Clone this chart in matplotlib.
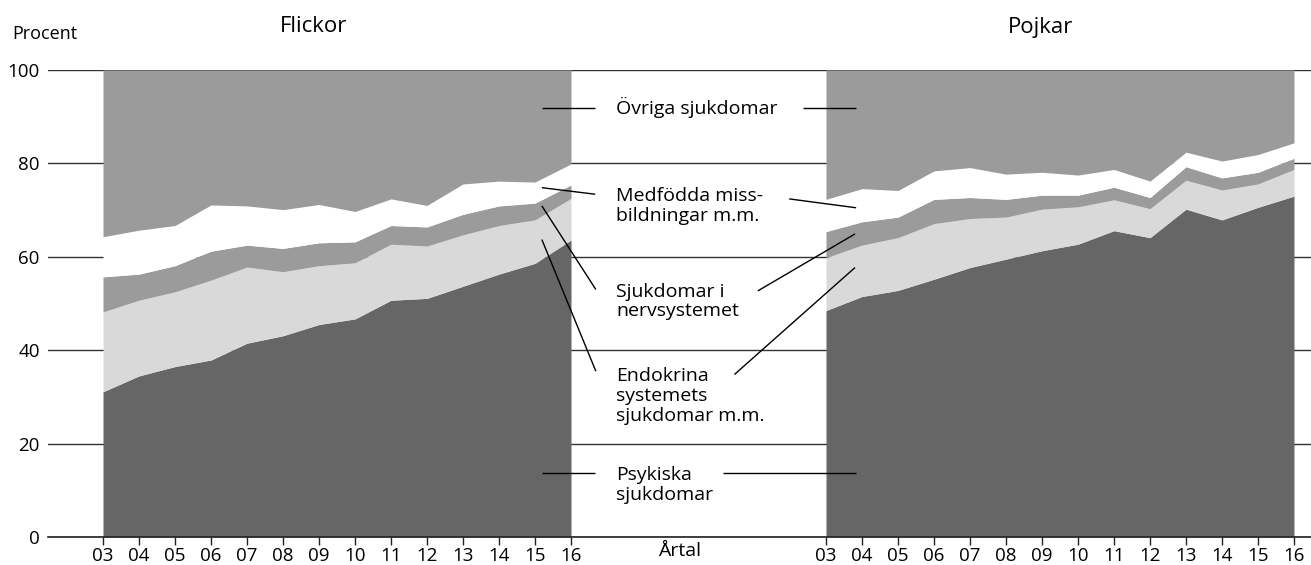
import numpy as np
import matplotlib
matplotlib.use("Agg")
import matplotlib.pyplot as plt

plt.rcParams['font.family'] = ['Open Sans', 'DejaVu Sans']

years = list(range(3, 17))
year_labels = [f"{y:02d}" for y in years]

# Cumulative tops (percent) for girls (Flickor)
f_psyk = [31.1, 34.5, 36.5, 37.9, 41.5, 43.1, 45.5, 46.7, 50.7, 51.1, 53.7, 56.3, 58.6, 63.6]
f_endo = [48.2, 50.7, 52.5, 55.0, 57.8, 56.8, 58.1, 58.7, 62.7, 62.3, 64.7, 66.7, 67.9, 72.5]
f_nerv = [55.7, 56.3, 58.1, 61.2, 62.5, 61.8, 63.0, 63.2, 66.7, 66.4, 69.1, 70.9, 71.5, 75.4]
f_medf = [64.3, 65.7, 66.7, 71.1, 70.9, 70.1, 71.2, 69.7, 72.4, 71.0, 75.6, 76.2, 76.0, 79.9]

# Cumulative tops (percent) for boys (Pojkar)
p_psyk = [48.5, 51.5, 52.8, 55.2, 57.7, 59.5, 61.3, 62.7, 65.6, 64.1, 70.2, 67.9, 70.6, 73.0]
p_endo = [59.8, 62.5, 64.1, 67.1, 68.2, 68.5, 70.2, 70.7, 72.2, 70.3, 76.4, 74.3, 75.6, 78.7]
p_nerv = [65.4, 67.5, 68.5, 72.3, 72.7, 72.3, 73.2, 73.2, 74.9, 72.7, 79.3, 76.9, 78.1, 81.1]
p_medf = [72.3, 74.6, 74.2, 78.4, 79.1, 77.7, 78.1, 77.5, 78.7, 76.2, 82.4, 80.5, 81.9, 84.4]

categories = ["Psykiska\nsjukdomar",
              "Endokrina\nsystemets\nsjukdomar m.m.",
              "Sjukdomar i\nnervsystemet",
              "Medfödda miss-\nbildningar m.m.",
              "Övriga sjukdomar"]
colors = ["#666666", "#d9d9d9", "#9b9b9b", "#ffffff", "#9b9b9b"]

W, H = 1311, 565
fig = plt.figure(figsize=(W / 100, H / 100), dpi=100)
ax = fig.add_axes([48 / W, 28 / H, 1263 / W, 467 / H])

px_per_year = 36.0
xmin = -(103 - 48) / px_per_year
xmax = xmin + 1263 / px_per_year
right_offset = (826 - 103) / px_per_year

x_left = np.array(years) - 3
x_right = np.array(years) - 3 + right_offset

def draw_panel(x, psyk, endo, nerv, medf):
    layers = [np.zeros(len(x)), np.array(psyk), np.array(endo), np.array(nerv),
              np.array(medf), np.full(len(x), 100.0)]
    for i in range(5):
        ax.fill_between(x, layers[i], layers[i + 1], color=colors[i],
                        linewidth=0, zorder=2)

draw_panel(x_left, f_psyk, f_endo, f_nerv, f_medf)
draw_panel(x_right, p_psyk, p_endo, p_nerv, p_medf)

ax.set_xlim(xmin, xmax)
ax.set_ylim(0, 100)
ax.set_yticks([0, 20, 40, 60, 80, 100])
ax.set_yticklabels(["0", "20", "40", "60", "80", "100"], fontsize=13.5)
ax.tick_params(axis='y', length=0, pad=6)
ax.grid(axis='y', color='#333333', linewidth=1.0, zorder=1)
ax.set_axisbelow(True)

xt = list(x_left) + list(x_right)
ax.set_xticks(xt)
ax.set_xticklabels(year_labels + year_labels, fontsize=13.5)
ax.tick_params(axis='x', length=6, width=1, color='#222222', pad=1, direction='out')

for s in ['top', 'left', 'right']:
    ax.spines[s].set_visible(False)
ax.spines['bottom'].set_color('#222222')
ax.spines['bottom'].set_linewidth(1.2)
ax.spines['bottom'].set_zorder(3)

# Titles and labels
fig.text(12 / W, 1 - 34 / H, "Procent", fontsize=13, ha='left', va='center')
fig.text(314 / W, 1 - 27 / H, "Flickor", fontsize=16, ha='center', va='center')
fig.text(1041 / W, 1 - 27 / H, "Pojkar", fontsize=16, ha='center', va='center')
fig.text(680 / W, 1 - 551 / H, "Årtal", fontsize=14, ha='center', va='center')

# Category labels in the gap
tx = 14.25
label_y = [11.2, 30.2, 50.4, 70.9, 91.9]
for name, y in zip(categories, label_y):
    ax.text(tx, y, name, fontsize=14, ha='left', va='center', linespacing=1.12, zorder=5)

# Leader lines (x, y pairs in data coords)
leaders = [
    ((12.19, 13.67), (13.8, 13.8)),
    ((17.21, 20.92), (13.8, 13.8)),
    ((12.19, 13.69), (63.7, 35.5)),
    ((17.54, 20.89), (34.8, 57.7)),
    ((12.19, 13.69), (70.9, 53.0)),
    ((18.19, 20.89), (52.7, 64.9)),
    ((12.19, 13.67), (74.8, 73.4)),
    ((19.06, 20.92), (72.4, 70.5)),
    ((12.19, 13.67), (91.8, 91.8)),
    ((19.44, 20.92), (91.8, 91.8)),
]
for xs, ys in leaders:
    ax.plot(xs, ys, color='black', linewidth=1.0, zorder=6, solid_capstyle='butt')

fig.savefig("out.png", dpi=100)
